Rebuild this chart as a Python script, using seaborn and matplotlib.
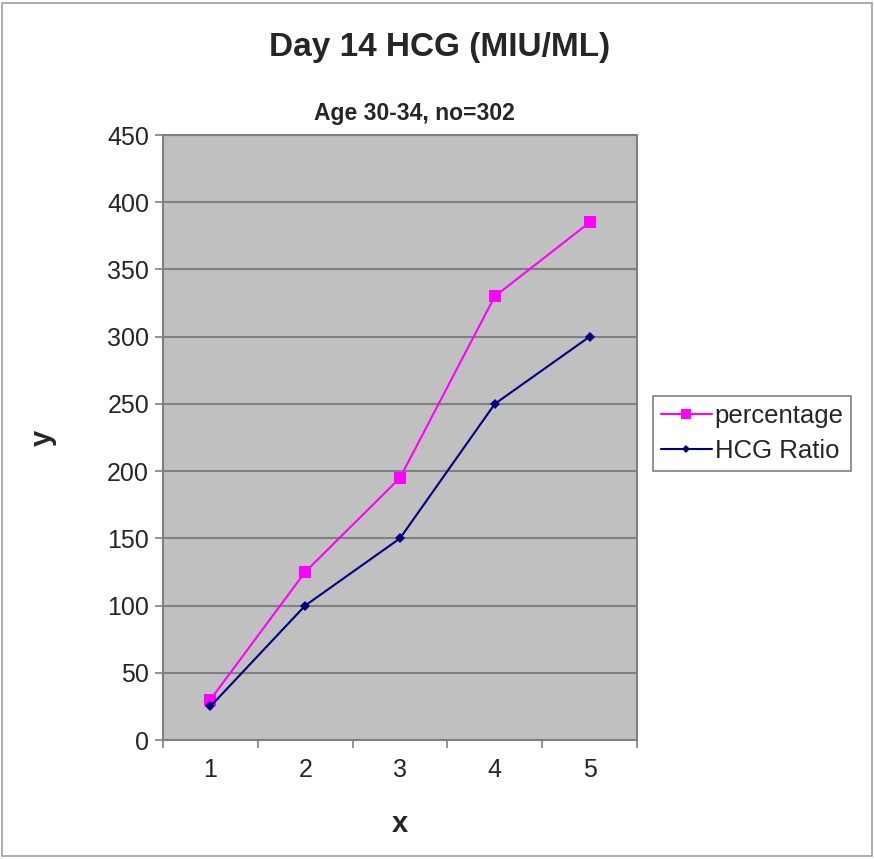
import pandas as pd
import matplotlib.pyplot as plt
import seaborn as sns
from matplotlib.patches import Rectangle
from matplotlib.ticker import FixedLocator, NullFormatter

# Day 14 HCG chart, age group 30-34

x_vals = [1, 2, 3, 4, 5]
percentage = [30, 125, 195, 330, 385]
hcg_ratio = [25, 100, 150, 250, 300]
y_ticks = [0, 50, 100, 150, 200, 250, 300, 350, 400, 450]

df = pd.DataFrame({
    'x': x_vals * 2,
    'y': percentage + hcg_ratio,
    'series': ['percentage'] * 5 + ['HCG Ratio'] * 5,
})

sns.set_style('white')
plt.rcParams['font.family'] = ['Liberation Sans', 'DejaVu Sans']

fig = plt.figure(figsize=(8.74, 8.59), dpi=100)
ax = fig.add_axes([0.1865, 0.1385, 0.5423, 0.7043])
ax.set_facecolor('#c0c0c0')

sns.lineplot(data=df, x='x', y='y', hue='series', style='series',
             palette={'percentage': '#ff00ff', 'HCG Ratio': '#000080'},
             markers={'percentage': 's', 'HCG Ratio': 'D'},
             dashes=False, linewidth=1.5, markeredgewidth=0,
             ax=ax, legend=False, zorder=3)
# marker sizes differ per series
for line, ms in zip(ax.lines, [8, 5]):
    line.set_markersize(ms)

ax.set_xlim(0.5, 5.5)
ax.set_ylim(0, 450)
ax.set_yticks(y_ticks)
ax.set_xticks(x_vals)
ax.xaxis.set_minor_locator(FixedLocator([0.5, 1.5, 2.5, 3.5, 4.5, 5.5]))
ax.xaxis.set_minor_formatter(NullFormatter())
ax.tick_params(axis='x', which='major', length=0, labelsize=18, pad=13)
ax.tick_params(axis='x', which='minor', length=6, width=1.2, color='#808080',
               direction='out', bottom=True)
ax.tick_params(axis='y', length=6, width=1.2, color='#808080', labelsize=18,
               direction='out', left=True, pad=4)
ax.yaxis.grid(True, color='#808080', linewidth=1.5, zorder=1)
ax.set_axisbelow(True)
for sp in ax.spines.values():
    sp.set_color('#808080')
    sp.set_linewidth(1.5)

ax.set_xlabel('x', fontsize=21, fontweight='bold', labelpad=20)
ax.set_ylabel('y', fontsize=21, fontweight='bold', labelpad=36)

fig.text(0.503, 0.945, 'Day 14 HCG (MIU/ML)', ha='center', va='center',
         fontsize=24, fontweight='bold')
fig.text(0.474, 0.868, 'Age 30-34, no=302', ha='center', va='center',
         fontsize=16.5, fontweight='bold')

# legend
handles = [plt.Line2D([], [], color='#ff00ff', marker='s', markersize=7, lw=1.5,
                      markeredgewidth=0),
           plt.Line2D([], [], color='#000080', marker='D', markersize=4, lw=1.5,
                      markeredgewidth=0)]
leg = fig.legend(handles, ['percentage', 'HCG Ratio'], loc='upper left',
                 bbox_to_anchor=(0.747, 0.539), fontsize=18.5, frameon=True,
                 fancybox=False, handlelength=2.0, handletextpad=0.1,
                 borderpad=0.3, labelspacing=0.45, borderaxespad=0)
leg.get_frame().set_edgecolor('#606060')
leg.get_frame().set_linewidth(1.2)

fig.patches.append(Rectangle((0.002, 0.003), 0.996, 0.994, transform=fig.transFigure,
                             fill=False, edgecolor='#a0a0a0', linewidth=1.2))

plt.savefig('out.png', dpi=100)
